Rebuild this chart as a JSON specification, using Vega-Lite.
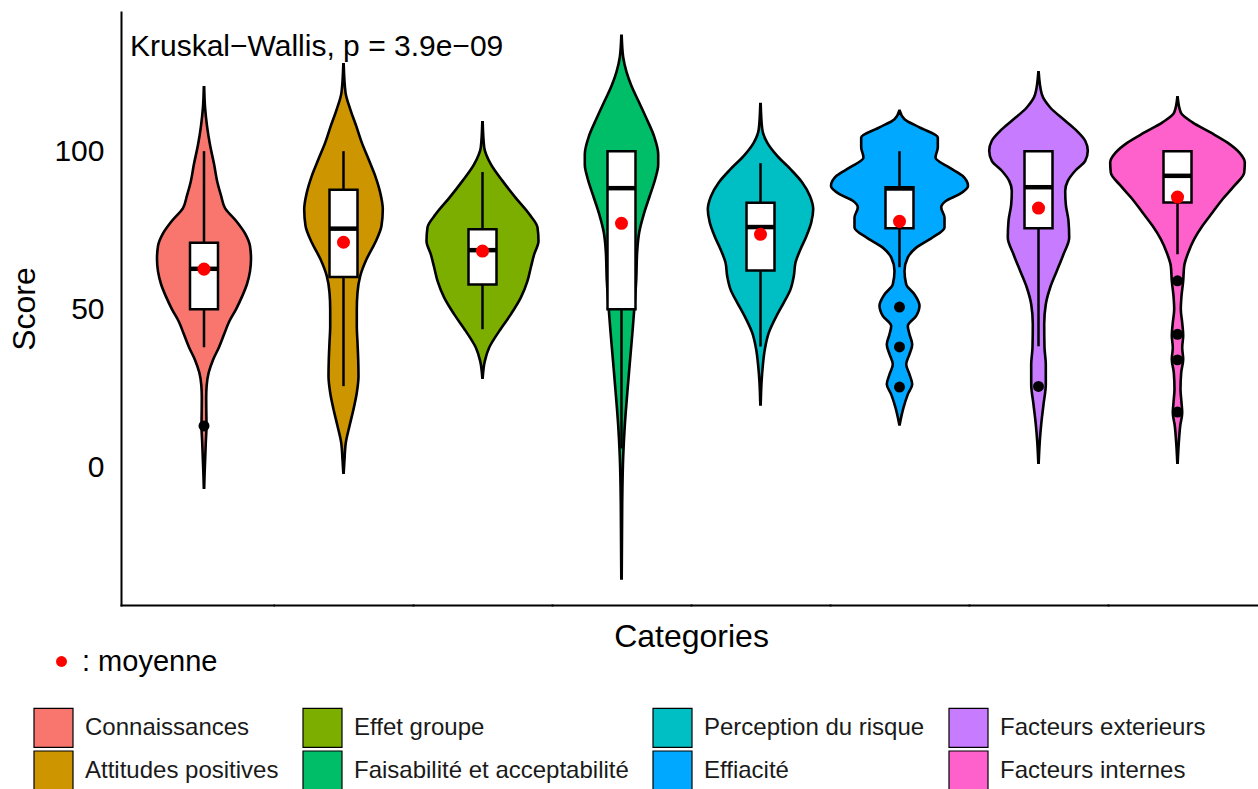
{
"$schema":"https://vega.github.io/schema/vega-lite/v6.json",
"padding":{"left":8,"top":12,"right":0,"bottom":0},
"background":"white",
"data":{"values":[
{"kind":"t","cat":"Connaissances","label":"Kruskal−Wallis, p = 3.9e−09"},
{"kind":"v","cat":"Connaissances","score":120.2,"w":0.4},{"kind":"v","cat":"Connaissances","score":114,"w":2},{"kind":"v","cat":"Connaissances","score":108,"w":6},{"kind":"v","cat":"Connaissances","score":102,"w":12},{"kind":"v","cat":"Connaissances","score":96,"w":20},{"kind":"v","cat":"Connaissances","score":90,"w":27},{"kind":"v","cat":"Connaissances","score":86,"w":34},{"kind":"v","cat":"Connaissances","score":82,"w":42},{"kind":"v","cat":"Connaissances","score":78,"w":64},{"kind":"v","cat":"Connaissances","score":74,"w":82},{"kind":"v","cat":"Connaissances","score":70,"w":92},{"kind":"v","cat":"Connaissances","score":66,"w":94},{"kind":"v","cat":"Connaissances","score":62,"w":92},{"kind":"v","cat":"Connaissances","score":58,"w":86},{"kind":"v","cat":"Connaissances","score":54,"w":76},{"kind":"v","cat":"Connaissances","score":50,"w":64},{"kind":"v","cat":"Connaissances","score":46,"w":50},{"kind":"v","cat":"Connaissances","score":42,"w":40},{"kind":"v","cat":"Connaissances","score":38,"w":30},{"kind":"v","cat":"Connaissances","score":34,"w":18},{"kind":"v","cat":"Connaissances","score":30,"w":9.4},{"kind":"v","cat":"Connaissances","score":26,"w":5.4},{"kind":"v","cat":"Connaissances","score":22,"w":4.4},{"kind":"v","cat":"Connaissances","score":18,"w":4.6},{"kind":"v","cat":"Connaissances","score":13,"w":5},{"kind":"v","cat":"Connaissances","score":8,"w":3.6},{"kind":"v","cat":"Connaissances","score":3,"w":2.4},{"kind":"v","cat":"Connaissances","score":-2,"w":1.2},{"kind":"v","cat":"Connaissances","score":-6.4,"w":0.4},
{"kind":"v","cat":"Attitudes positives","score":127.5,"w":0.4},{"kind":"v","cat":"Attitudes positives","score":118.6,"w":4},{"kind":"v","cat":"Attitudes positives","score":113.3,"w":13.4},{"kind":"v","cat":"Attitudes positives","score":108,"w":25.4},{"kind":"v","cat":"Attitudes positives","score":102.7,"w":36.6},{"kind":"v","cat":"Attitudes positives","score":97.5,"w":50},{"kind":"v","cat":"Attitudes positives","score":92.2,"w":63.4},{"kind":"v","cat":"Attitudes positives","score":86.9,"w":73.4},{"kind":"v","cat":"Attitudes positives","score":81.6,"w":78.6},{"kind":"v","cat":"Attitudes positives","score":76.4,"w":76},{"kind":"v","cat":"Attitudes positives","score":71.1,"w":63.4},{"kind":"v","cat":"Attitudes positives","score":65.8,"w":46},{"kind":"v","cat":"Attitudes positives","score":60.5,"w":33.4},{"kind":"v","cat":"Attitudes positives","score":55.3,"w":28},{"kind":"v","cat":"Attitudes positives","score":50,"w":26.6},{"kind":"v","cat":"Attitudes positives","score":44.7,"w":26.6},{"kind":"v","cat":"Attitudes positives","score":39.5,"w":28},{"kind":"v","cat":"Attitudes positives","score":34.2,"w":29.4},{"kind":"v","cat":"Attitudes positives","score":28.9,"w":30},{"kind":"v","cat":"Attitudes positives","score":23.6,"w":26.6},{"kind":"v","cat":"Attitudes positives","score":18.4,"w":20},{"kind":"v","cat":"Attitudes positives","score":13.1,"w":12},{"kind":"v","cat":"Attitudes positives","score":7.8,"w":4.6},{"kind":"v","cat":"Attitudes positives","score":2.5,"w":2},{"kind":"v","cat":"Attitudes positives","score":-1.7,"w":0.4},
{"kind":"v","cat":"Effet groupe","score":109.1,"w":0.4},{"kind":"v","cat":"Effet groupe","score":101.2,"w":3.4},{"kind":"v","cat":"Effet groupe","score":95.9,"w":16.6},{"kind":"v","cat":"Effet groupe","score":90.6,"w":40},{"kind":"v","cat":"Effet groupe","score":85.3,"w":66},{"kind":"v","cat":"Effet groupe","score":80.1,"w":93.4},{"kind":"v","cat":"Effet groupe","score":75.9,"w":110},{"kind":"v","cat":"Effet groupe","score":71.6,"w":112},{"kind":"v","cat":"Effet groupe","score":67.4,"w":103.4},{"kind":"v","cat":"Effet groupe","score":63.2,"w":96.6},{"kind":"v","cat":"Effet groupe","score":59,"w":90},{"kind":"v","cat":"Effet groupe","score":53.7,"w":76.6},{"kind":"v","cat":"Effet groupe","score":48.4,"w":56.6},{"kind":"v","cat":"Effet groupe","score":43.1,"w":33.4},{"kind":"v","cat":"Effet groupe","score":37.9,"w":13.4},{"kind":"v","cat":"Effet groupe","score":33.6,"w":4.6},{"kind":"v","cat":"Effet groupe","score":28.4,"w":0.4},
{"kind":"v","cat":"Faisabilité et acceptabilité","score":136.5,"w":0.4},{"kind":"v","cat":"Faisabilité et acceptabilité","score":129.7,"w":3.4},{"kind":"v","cat":"Faisabilité et acceptabilité","score":125.1,"w":10},{"kind":"v","cat":"Faisabilité et acceptabilité","score":120.6,"w":20},{"kind":"v","cat":"Faisabilité et acceptabilité","score":116,"w":33.4},{"kind":"v","cat":"Faisabilité et acceptabilité","score":110.3,"w":50},{"kind":"v","cat":"Faisabilité et acceptabilité","score":104.6,"w":65.4},{"kind":"v","cat":"Faisabilité et acceptabilité","score":99,"w":73.4},{"kind":"v","cat":"Faisabilité et acceptabilité","score":95.8,"w":73.4},{"kind":"v","cat":"Faisabilité et acceptabilité","score":91.5,"w":68},{"kind":"v","cat":"Faisabilité et acceptabilité","score":85.9,"w":56.6},{"kind":"v","cat":"Faisabilité et acceptabilité","score":80.1,"w":44.6},{"kind":"v","cat":"Faisabilité et acceptabilité","score":74.3,"w":35.4},{"kind":"v","cat":"Faisabilité et acceptabilité","score":68.4,"w":31.4},{"kind":"v","cat":"Faisabilité et acceptabilité","score":59.1,"w":29.4},{"kind":"v","cat":"Faisabilité et acceptabilité","score":49.8,"w":25.4},{"kind":"v","cat":"Faisabilité et acceptabilité","score":42.9,"w":22},{"kind":"v","cat":"Faisabilité et acceptabilité","score":33,"w":16.6},{"kind":"v","cat":"Faisabilité et acceptabilité","score":23.2,"w":11.4},{"kind":"v","cat":"Faisabilité et acceptabilité","score":13.3,"w":6.6},{"kind":"v","cat":"Faisabilité et acceptabilité","score":3.4,"w":3.4},{"kind":"v","cat":"Faisabilité et acceptabilité","score":-11.4,"w":1.4},{"kind":"v","cat":"Faisabilité et acceptabilité","score":-35.1,"w":0.4},
{"kind":"v","cat":"Perception du risque","score":114.9,"w":0.4},{"kind":"v","cat":"Perception du risque","score":107,"w":3.4},{"kind":"v","cat":"Perception du risque","score":102.7,"w":13.4},{"kind":"v","cat":"Perception du risque","score":98.5,"w":33.4},{"kind":"v","cat":"Perception du risque","score":94.3,"w":60},{"kind":"v","cat":"Perception du risque","score":90.1,"w":83.4},{"kind":"v","cat":"Perception du risque","score":85.9,"w":98.6},{"kind":"v","cat":"Perception du risque","score":81.6,"w":105.4},{"kind":"v","cat":"Perception du risque","score":77.4,"w":101.4},{"kind":"v","cat":"Perception du risque","score":73.2,"w":92},{"kind":"v","cat":"Perception du risque","score":69,"w":80},{"kind":"v","cat":"Perception du risque","score":64.8,"w":70},{"kind":"v","cat":"Perception du risque","score":60.5,"w":66.6},{"kind":"v","cat":"Perception du risque","score":56.3,"w":60},{"kind":"v","cat":"Perception du risque","score":52.1,"w":46.6},{"kind":"v","cat":"Perception du risque","score":47.9,"w":32},{"kind":"v","cat":"Perception du risque","score":42.6,"w":16.6},{"kind":"v","cat":"Perception du risque","score":37.3,"w":8.6},{"kind":"v","cat":"Perception du risque","score":32.1,"w":4.6},{"kind":"v","cat":"Perception du risque","score":26.8,"w":2},{"kind":"v","cat":"Perception du risque","score":19.9,"w":0.4},
{"kind":"v","cat":"Effiacité","score":112.8,"w":0.4},{"kind":"v","cat":"Effiacité","score":110.1,"w":10},{"kind":"v","cat":"Effiacité","score":107.5,"w":40},{"kind":"v","cat":"Effiacité","score":104.3,"w":76.6},{"kind":"v","cat":"Effiacité","score":101.2,"w":76.6},{"kind":"v","cat":"Effiacité","score":98,"w":72},{"kind":"v","cat":"Effiacité","score":94.8,"w":100},{"kind":"v","cat":"Effiacité","score":92.2,"w":126},{"kind":"v","cat":"Effiacité","score":89,"w":137},{"kind":"v","cat":"Effiacité","score":86.4,"w":120},{"kind":"v","cat":"Effiacité","score":84.3,"w":93.4},{"kind":"v","cat":"Effiacité","score":82.2,"w":83.4},{"kind":"v","cat":"Effiacité","score":79,"w":90},{"kind":"v","cat":"Effiacité","score":75.9,"w":90},{"kind":"v","cat":"Effiacité","score":72.7,"w":66},{"kind":"v","cat":"Effiacité","score":69.5,"w":33.4},{"kind":"v","cat":"Effiacité","score":66.4,"w":16.6},{"kind":"v","cat":"Effiacité","score":62.1,"w":10},{"kind":"v","cat":"Effiacité","score":57.9,"w":13.4},{"kind":"v","cat":"Effiacité","score":54.7,"w":30},{"kind":"v","cat":"Effiacité","score":51.1,"w":40},{"kind":"v","cat":"Effiacité","score":47.9,"w":33.4},{"kind":"v","cat":"Effiacité","score":44.7,"w":16.6},{"kind":"v","cat":"Effiacité","score":42.1,"w":20},{"kind":"v","cat":"Effiacité","score":38.9,"w":25.4},{"kind":"v","cat":"Effiacité","score":35.8,"w":20},{"kind":"v","cat":"Effiacité","score":32.6,"w":13.4},{"kind":"v","cat":"Effiacité","score":29.4,"w":20},{"kind":"v","cat":"Effiacité","score":26.3,"w":25.4},{"kind":"v","cat":"Effiacité","score":23.1,"w":16.6},{"kind":"v","cat":"Effiacité","score":18.9,"w":8},{"kind":"v","cat":"Effiacité","score":13.6,"w":0.4},
{"kind":"v","cat":"Facteurs exterieurs","score":124.9,"w":0.4},{"kind":"v","cat":"Facteurs exterieurs","score":118,"w":6.6},{"kind":"v","cat":"Facteurs exterieurs","score":113.8,"w":23.4},{"kind":"v","cat":"Facteurs exterieurs","score":109.6,"w":53.4},{"kind":"v","cat":"Facteurs exterieurs","score":106.4,"w":76.6},{"kind":"v","cat":"Facteurs exterieurs","score":103.3,"w":93.4},{"kind":"v","cat":"Facteurs exterieurs","score":100.1,"w":98.6},{"kind":"v","cat":"Facteurs exterieurs","score":96.9,"w":93.4},{"kind":"v","cat":"Facteurs exterieurs","score":93.8,"w":73.4},{"kind":"v","cat":"Facteurs exterieurs","score":90.6,"w":58.6},{"kind":"v","cat":"Facteurs exterieurs","score":87.4,"w":53.4},{"kind":"v","cat":"Facteurs exterieurs","score":83.2,"w":54.6},{"kind":"v","cat":"Facteurs exterieurs","score":77.9,"w":60},{"kind":"v","cat":"Facteurs exterieurs","score":72.7,"w":61.4},{"kind":"v","cat":"Facteurs exterieurs","score":67.4,"w":50},{"kind":"v","cat":"Facteurs exterieurs","score":62.1,"w":36.6},{"kind":"v","cat":"Facteurs exterieurs","score":56.9,"w":23.4},{"kind":"v","cat":"Facteurs exterieurs","score":51.6,"w":14.6},{"kind":"v","cat":"Facteurs exterieurs","score":45.3,"w":11.4},{"kind":"v","cat":"Facteurs exterieurs","score":37.9,"w":12},{"kind":"v","cat":"Facteurs exterieurs","score":32.6,"w":14.6},{"kind":"v","cat":"Facteurs exterieurs","score":26.3,"w":14.6},{"kind":"v","cat":"Facteurs exterieurs","score":19.9,"w":10},{"kind":"v","cat":"Facteurs exterieurs","score":13.6,"w":5.4},{"kind":"v","cat":"Facteurs exterieurs","score":8.3,"w":2.6},{"kind":"v","cat":"Facteurs exterieurs","score":1.5,"w":0.4},
{"kind":"v","cat":"Facteurs internes","score":117,"w":0.4},{"kind":"v","cat":"Facteurs internes","score":112.2,"w":6.6},{"kind":"v","cat":"Facteurs internes","score":109.1,"w":30},{"kind":"v","cat":"Facteurs internes","score":105.9,"w":66},{"kind":"v","cat":"Facteurs internes","score":102.7,"w":100},{"kind":"v","cat":"Facteurs internes","score":99.6,"w":123.4},{"kind":"v","cat":"Facteurs internes","score":96.4,"w":134.6},{"kind":"v","cat":"Facteurs internes","score":93.2,"w":133.4},{"kind":"v","cat":"Facteurs internes","score":89,"w":113.4},{"kind":"v","cat":"Facteurs internes","score":84.8,"w":90},{"kind":"v","cat":"Facteurs internes","score":80.6,"w":70},{"kind":"v","cat":"Facteurs internes","score":76.4,"w":50},{"kind":"v","cat":"Facteurs internes","score":72.2,"w":33.4},{"kind":"v","cat":"Facteurs internes","score":67.9,"w":21.4},{"kind":"v","cat":"Facteurs internes","score":63.7,"w":13.4},{"kind":"v","cat":"Facteurs internes","score":59,"w":11.4},{"kind":"v","cat":"Facteurs internes","score":54.2,"w":8},{"kind":"v","cat":"Facteurs internes","score":50,"w":6.6},{"kind":"v","cat":"Facteurs internes","score":45.8,"w":9.4},{"kind":"v","cat":"Facteurs internes","score":41.6,"w":11.4},{"kind":"v","cat":"Facteurs internes","score":37.9,"w":9.4},{"kind":"v","cat":"Facteurs internes","score":34.2,"w":11.4},{"kind":"v","cat":"Facteurs internes","score":30,"w":7.4},{"kind":"v","cat":"Facteurs internes","score":24.7,"w":6},{"kind":"v","cat":"Facteurs internes","score":20.5,"w":8},{"kind":"v","cat":"Facteurs internes","score":17.3,"w":9.4},{"kind":"v","cat":"Facteurs internes","score":13.1,"w":5.4},{"kind":"v","cat":"Facteurs internes","score":7.8,"w":2.6},{"kind":"v","cat":"Facteurs internes","score":1.5,"w":0.4},
{"kind":"b","cat":"Connaissances","lo":38,"q1":50,"med":62.8,"q3":71,"hi":100},
{"kind":"b","cat":"Attitudes positives","lo":25.7,"q1":60.2,"med":75.5,"q3":87.8,"hi":100},
{"kind":"b","cat":"Effet groupe","lo":43.7,"q1":57.8,"med":68.7,"q3":75.3,"hi":93.4},
{"kind":"b","cat":"Faisabilité et acceptabilité","lo":6,"q1":50,"med":88.3,"q3":100,"hi":100},
{"kind":"b","cat":"Perception du risque","lo":38.2,"q1":62.3,"med":76,"q3":83.7,"hi":96.2},
{"kind":"b","cat":"Effiacité","lo":63.3,"q1":75.6,"med":88.2,"q3":88.6,"hi":100},
{"kind":"b","cat":"Facteurs exterieurs","lo":38.3,"q1":75.6,"med":88.6,"q3":100,"hi":100},
{"kind":"b","cat":"Facteurs internes","lo":67.4,"q1":83.8,"med":92.2,"q3":100,"hi":100},
{"kind":"m","cat":"Connaissances","score":62.7,"mlab":": moyenne"},
{"kind":"m","cat":"Attitudes positives","score":71.2,"mlab":": moyenne"},
{"kind":"m","cat":"Effet groupe","score":68.4,"mlab":": moyenne"},
{"kind":"m","cat":"Faisabilité et acceptabilité","score":77.2,"mlab":": moyenne"},
{"kind":"m","cat":"Perception du risque","score":73.7,"mlab":": moyenne"},
{"kind":"m","cat":"Effiacité","score":77.8,"mlab":": moyenne"},
{"kind":"m","cat":"Facteurs exterieurs","score":82,"mlab":": moyenne"},
{"kind":"m","cat":"Facteurs internes","score":85.5,"mlab":": moyenne"},
{"kind":"o","cat":"Connaissances","score":13.1},
{"kind":"o","cat":"Effiacité","score":50.7},{"kind":"o","cat":"Effiacité","score":38.1},{"kind":"o","cat":"Effiacité","score":25.4},
{"kind":"o","cat":"Facteurs exterieurs","score":25.6},
{"kind":"o","cat":"Facteurs internes","score":59},{"kind":"o","cat":"Facteurs internes","score":42.1},{"kind":"o","cat":"Facteurs internes","score":34},{"kind":"o","cat":"Facteurs internes","score":17.5}
]},
"hconcat":[
{"width":152.5,"height":593,"transform":[{"filter":"datum.cat === 'Connaissances'"}],"layer":[
{"transform":[{"filter":"datum.kind === 'v'"}],"mark":{"type":"area","orient":"horizontal","interpolate":"monotone","stroke":"black","strokeWidth":2.6,"opacity":1,"fillOpacity":1},"encoding":{"x":{"field":"w","type":"quantitative","stack":"center","scale":{"domain":[-36,116.5],"nice":false,"zero":false},"axis":{"title":null}},"y":{"field":"score","type":"quantitative","scale":{"domain":[-43.5,144],"nice":false,"zero":false},"axis":{"title":"Score","values":[0,50,100]}},"fill":{"field":"cat","type":"nominal","scale":{"domain":["Connaissances","Attitudes positives","Effet groupe","Faisabilité et acceptabilité","Perception du risque","Effiacité","Facteurs exterieurs","Facteurs internes"],"range":["#F8766D","#CD9600","#7CAE00","#00BE67","#00BFC4","#00A9FF","#C77CFF","#FF61CC"]},"legend":{"title":null,"orient":"none","legendX":-88,"legendY":695,"columns":4,"columnPadding":21,"rowPadding":-3,"symbolType":"square","symbolSize":1521,"symbolStrokeColor":"black","symbolStrokeWidth":1.2,"symbolOpacity":1,"labelFontSize":24,"labelColor":"#1a1a1a","labelOffset":11,"labelLimit":400,"gridAlign":"each","padding":0}}}},
{"transform":[{"filter":"datum.kind === 'b'"}],"mark":{"type":"rule","color":"black","strokeWidth":2.5},"encoding":{"x":{"datum":47},"y":{"field":"lo","type":"quantitative"},"y2":{"field":"hi"}}},
{"transform":[{"filter":"datum.kind === 'b'"}],"mark":{"type":"rect","fill":"white","stroke":"black","strokeWidth":2.5},"encoding":{"x":{"datum":33},"x2":{"datum":61},"y":{"field":"q1","type":"quantitative"},"y2":{"field":"q3"}}},
{"transform":[{"filter":"datum.kind === 'b'"}],"mark":{"type":"rule","color":"black","strokeWidth":4.5},"encoding":{"x":{"datum":33},"x2":{"datum":61},"y":{"field":"med","type":"quantitative"}}},
{"transform":[{"filter":"datum.kind === 'o'"}],"mark":{"type":"circle","color":"black","size":120,"opacity":1},"encoding":{"x":{"datum":47},"y":{"field":"score","type":"quantitative"}}},
{"transform":[{"filter":"datum.kind === 'm'"}],"mark":{"type":"point","filled":true,"color":"red","size":170,"opacity":1},"encoding":{"x":{"datum":47},"y":{"field":"score","type":"quantitative"},"shape":{"field":"mlab","type":"nominal","scale":{"domain":[": moyenne"],"range":["circle"]},"legend":{"title":null,"orient":"none","legendX":-74,"legendY":635,"symbolSize":120,"symbolFillColor":"red","symbolStrokeWidth":0,"symbolOpacity":1,"labelFontSize":29,"labelColor":"black","labelOffset":6,"padding":0}}}},
{"transform":[{"filter":"datum.kind === 't'"}],"mark":{"type":"text","align":"left","baseline":"alphabetic","fontSize":30,"color":"black"},"encoding":{"x":{"datum":-27},"y":{"datum":130.1},"text":{"field":"label"}}}
]},
{"width":139,"height":593,"transform":[{"filter":"datum.cat === 'Attitudes positives'"}],"layer":[
{"transform":[{"filter":"datum.kind === 'v'"}],"mark":{"type":"area","orient":"horizontal","interpolate":"monotone","stroke":"black","strokeWidth":2.6,"opacity":1,"fillOpacity":1},"encoding":{"x":{"field":"w","type":"quantitative","stack":"center","scale":{"domain":[-30.2,108.8],"nice":false,"zero":false},"axis":{"title":null}},"y":{"field":"score","type":"quantitative","scale":{"domain":[-43.5,144],"nice":false,"zero":false},"axis":null},"fill":{"field":"cat","type":"nominal"}}},
{"transform":[{"filter":"datum.kind === 'b'"}],"mark":{"type":"rule","color":"black","strokeWidth":2.5},"encoding":{"x":{"datum":39.3},"y":{"field":"lo","type":"quantitative","axis":null},"y2":{"field":"hi"}}},
{"transform":[{"filter":"datum.kind === 'b'"}],"mark":{"type":"rect","fill":"white","stroke":"black","strokeWidth":2.5},"encoding":{"x":{"datum":25.3},"x2":{"datum":53.3},"y":{"field":"q1","type":"quantitative","axis":null},"y2":{"field":"q3"}}},
{"transform":[{"filter":"datum.kind === 'b'"}],"mark":{"type":"rule","color":"black","strokeWidth":4.5},"encoding":{"x":{"datum":25.3},"x2":{"datum":53.3},"y":{"field":"med","type":"quantitative","axis":null}}},
{"transform":[{"filter":"datum.kind === 'm'"}],"mark":{"type":"point","filled":true,"color":"red","size":170,"opacity":1},"encoding":{"x":{"datum":39.3},"y":{"field":"score","type":"quantitative","axis":null},"shape":{"field":"mlab","type":"nominal"}}}
]},
{"width":139,"height":593,"transform":[{"filter":"datum.cat === 'Effet groupe'"}],"layer":[
{"transform":[{"filter":"datum.kind === 'v'"}],"mark":{"type":"area","orient":"horizontal","interpolate":"monotone","stroke":"black","strokeWidth":2.6,"opacity":1,"fillOpacity":1},"encoding":{"x":{"field":"w","type":"quantitative","stack":"center","scale":{"domain":[-13.5,125.5],"nice":false,"zero":false},"axis":{"title":null}},"y":{"field":"score","type":"quantitative","scale":{"domain":[-43.5,144],"nice":false,"zero":false},"axis":null},"fill":{"field":"cat","type":"nominal"}}},
{"transform":[{"filter":"datum.kind === 'b'"}],"mark":{"type":"rule","color":"black","strokeWidth":2.5},"encoding":{"x":{"datum":56},"y":{"field":"lo","type":"quantitative","axis":null},"y2":{"field":"hi"}}},
{"transform":[{"filter":"datum.kind === 'b'"}],"mark":{"type":"rect","fill":"white","stroke":"black","strokeWidth":2.5},"encoding":{"x":{"datum":42},"x2":{"datum":70},"y":{"field":"q1","type":"quantitative","axis":null},"y2":{"field":"q3"}}},
{"transform":[{"filter":"datum.kind === 'b'"}],"mark":{"type":"rule","color":"black","strokeWidth":4.5},"encoding":{"x":{"datum":42},"x2":{"datum":70},"y":{"field":"med","type":"quantitative","axis":null}}},
{"transform":[{"filter":"datum.kind === 'm'"}],"mark":{"type":"point","filled":true,"color":"red","size":170,"opacity":1},"encoding":{"x":{"datum":56},"y":{"field":"score","type":"quantitative","axis":null},"shape":{"field":"mlab","type":"nominal"}}}
]},
{"width":139,"height":593,"transform":[{"filter":"datum.cat === 'Faisabilité et acceptabilité'"}],"layer":[
{"transform":[{"filter":"datum.kind === 'v'"}],"mark":{"type":"area","orient":"horizontal","interpolate":"monotone","stroke":"black","strokeWidth":2.6,"opacity":1,"fillOpacity":1},"encoding":{"x":{"field":"w","type":"quantitative","stack":"center","scale":{"domain":[-32.8,106.2],"nice":false,"zero":false},"axis":{"title":"Categories","titleAnchor":"end","titleAlign":"center"}},"y":{"field":"score","type":"quantitative","scale":{"domain":[-43.5,144],"nice":false,"zero":false},"axis":null},"fill":{"field":"cat","type":"nominal"}}},
{"transform":[{"filter":"datum.kind === 'b'"}],"mark":{"type":"rule","color":"black","strokeWidth":2.5},"encoding":{"x":{"datum":36.7},"y":{"field":"lo","type":"quantitative","axis":null},"y2":{"field":"hi"}}},
{"transform":[{"filter":"datum.kind === 'b'"}],"mark":{"type":"rect","fill":"white","stroke":"black","strokeWidth":2.5},"encoding":{"x":{"datum":22.7},"x2":{"datum":50.7},"y":{"field":"q1","type":"quantitative","axis":null},"y2":{"field":"q3"}}},
{"transform":[{"filter":"datum.kind === 'b'"}],"mark":{"type":"rule","color":"black","strokeWidth":4.5},"encoding":{"x":{"datum":22.7},"x2":{"datum":50.7},"y":{"field":"med","type":"quantitative","axis":null}}},
{"transform":[{"filter":"datum.kind === 'm'"}],"mark":{"type":"point","filled":true,"color":"red","size":170,"opacity":1},"encoding":{"x":{"datum":36.7},"y":{"field":"score","type":"quantitative","axis":null},"shape":{"field":"mlab","type":"nominal"}}}
]},
{"width":139,"height":593,"transform":[{"filter":"datum.cat === 'Perception du risque'"}],"layer":[
{"transform":[{"filter":"datum.kind === 'v'"}],"mark":{"type":"area","orient":"horizontal","interpolate":"monotone","stroke":"black","strokeWidth":2.6,"opacity":1,"fillOpacity":1},"encoding":{"x":{"field":"w","type":"quantitative","stack":"center","scale":{"domain":[-16.8,122.2],"nice":false,"zero":false},"axis":{"title":null}},"y":{"field":"score","type":"quantitative","scale":{"domain":[-43.5,144],"nice":false,"zero":false},"axis":null},"fill":{"field":"cat","type":"nominal"}}},
{"transform":[{"filter":"datum.kind === 'b'"}],"mark":{"type":"rule","color":"black","strokeWidth":2.5},"encoding":{"x":{"datum":52.7},"y":{"field":"lo","type":"quantitative","axis":null},"y2":{"field":"hi"}}},
{"transform":[{"filter":"datum.kind === 'b'"}],"mark":{"type":"rect","fill":"white","stroke":"black","strokeWidth":2.5},"encoding":{"x":{"datum":38.7},"x2":{"datum":66.7},"y":{"field":"q1","type":"quantitative","axis":null},"y2":{"field":"q3"}}},
{"transform":[{"filter":"datum.kind === 'b'"}],"mark":{"type":"rule","color":"black","strokeWidth":4.5},"encoding":{"x":{"datum":38.7},"x2":{"datum":66.7},"y":{"field":"med","type":"quantitative","axis":null}}},
{"transform":[{"filter":"datum.kind === 'm'"}],"mark":{"type":"point","filled":true,"color":"red","size":170,"opacity":1},"encoding":{"x":{"datum":52.7},"y":{"field":"score","type":"quantitative","axis":null},"shape":{"field":"mlab","type":"nominal"}}}
]},
{"width":139,"height":593,"transform":[{"filter":"datum.cat === 'Effiacité'"}],"layer":[
{"transform":[{"filter":"datum.kind === 'v'"}],"mark":{"type":"area","orient":"horizontal","interpolate":"monotone","stroke":"black","strokeWidth":2.6,"opacity":1,"fillOpacity":1},"encoding":{"x":{"field":"w","type":"quantitative","stack":"center","scale":{"domain":[-1,138],"nice":false,"zero":false},"axis":{"title":null}},"y":{"field":"score","type":"quantitative","scale":{"domain":[-43.5,144],"nice":false,"zero":false},"axis":null},"fill":{"field":"cat","type":"nominal"}}},
{"transform":[{"filter":"datum.kind === 'b'"}],"mark":{"type":"rule","color":"black","strokeWidth":2.5},"encoding":{"x":{"datum":68.5},"y":{"field":"lo","type":"quantitative","axis":null},"y2":{"field":"hi"}}},
{"transform":[{"filter":"datum.kind === 'b'"}],"mark":{"type":"rect","fill":"white","stroke":"black","strokeWidth":2.5},"encoding":{"x":{"datum":54.5},"x2":{"datum":82.5},"y":{"field":"q1","type":"quantitative","axis":null},"y2":{"field":"q3"}}},
{"transform":[{"filter":"datum.kind === 'b'"}],"mark":{"type":"rule","color":"black","strokeWidth":4.5},"encoding":{"x":{"datum":54.5},"x2":{"datum":82.5},"y":{"field":"med","type":"quantitative","axis":null}}},
{"transform":[{"filter":"datum.kind === 'o'"}],"mark":{"type":"circle","color":"black","size":120,"opacity":1},"encoding":{"x":{"datum":68.5},"y":{"field":"score","type":"quantitative","axis":null}}},
{"transform":[{"filter":"datum.kind === 'm'"}],"mark":{"type":"point","filled":true,"color":"red","size":170,"opacity":1},"encoding":{"x":{"datum":68.5},"y":{"field":"score","type":"quantitative","axis":null},"shape":{"field":"mlab","type":"nominal"}}}
]},
{"width":139,"height":593,"transform":[{"filter":"datum.cat === 'Facteurs exterieurs'"}],"layer":[
{"transform":[{"filter":"datum.kind === 'v'"}],"mark":{"type":"area","orient":"horizontal","interpolate":"monotone","stroke":"black","strokeWidth":2.6,"opacity":1,"fillOpacity":1},"encoding":{"x":{"field":"w","type":"quantitative","stack":"center","scale":{"domain":[-20.2,118.8],"nice":false,"zero":false},"axis":{"title":null}},"y":{"field":"score","type":"quantitative","scale":{"domain":[-43.5,144],"nice":false,"zero":false},"axis":null},"fill":{"field":"cat","type":"nominal"}}},
{"transform":[{"filter":"datum.kind === 'b'"}],"mark":{"type":"rule","color":"black","strokeWidth":2.5},"encoding":{"x":{"datum":49.3},"y":{"field":"lo","type":"quantitative","axis":null},"y2":{"field":"hi"}}},
{"transform":[{"filter":"datum.kind === 'b'"}],"mark":{"type":"rect","fill":"white","stroke":"black","strokeWidth":2.5},"encoding":{"x":{"datum":35.3},"x2":{"datum":63.3},"y":{"field":"q1","type":"quantitative","axis":null},"y2":{"field":"q3"}}},
{"transform":[{"filter":"datum.kind === 'b'"}],"mark":{"type":"rule","color":"black","strokeWidth":4.5},"encoding":{"x":{"datum":35.3},"x2":{"datum":63.3},"y":{"field":"med","type":"quantitative","axis":null}}},
{"transform":[{"filter":"datum.kind === 'o'"}],"mark":{"type":"circle","color":"black","size":120,"opacity":1},"encoding":{"x":{"datum":49.3},"y":{"field":"score","type":"quantitative","axis":null}}},
{"transform":[{"filter":"datum.kind === 'm'"}],"mark":{"type":"point","filled":true,"color":"red","size":170,"opacity":1},"encoding":{"x":{"datum":49.3},"y":{"field":"score","type":"quantitative","axis":null},"shape":{"field":"mlab","type":"nominal"}}}
]},
{"width":150.5,"height":593,"transform":[{"filter":"datum.cat === 'Facteurs internes'"}],"layer":[
{"transform":[{"filter":"datum.kind === 'v'"}],"mark":{"type":"area","orient":"horizontal","interpolate":"monotone","stroke":"black","strokeWidth":2.6,"opacity":1,"fillOpacity":1},"encoding":{"x":{"field":"w","type":"quantitative","stack":"center","scale":{"domain":[-2.2,148.3],"nice":false,"zero":false},"axis":{"title":null}},"y":{"field":"score","type":"quantitative","scale":{"domain":[-43.5,144],"nice":false,"zero":false},"axis":null},"fill":{"field":"cat","type":"nominal"}}},
{"transform":[{"filter":"datum.kind === 'b'"}],"mark":{"type":"rule","color":"black","strokeWidth":2.5},"encoding":{"x":{"datum":67.3},"y":{"field":"lo","type":"quantitative","axis":null},"y2":{"field":"hi"}}},
{"transform":[{"filter":"datum.kind === 'b'"}],"mark":{"type":"rect","fill":"white","stroke":"black","strokeWidth":2.5},"encoding":{"x":{"datum":53.3},"x2":{"datum":81.3},"y":{"field":"q1","type":"quantitative","axis":null},"y2":{"field":"q3"}}},
{"transform":[{"filter":"datum.kind === 'b'"}],"mark":{"type":"rule","color":"black","strokeWidth":4.5},"encoding":{"x":{"datum":53.3},"x2":{"datum":81.3},"y":{"field":"med","type":"quantitative","axis":null}}},
{"transform":[{"filter":"datum.kind === 'o'"}],"mark":{"type":"circle","color":"black","size":120,"opacity":1},"encoding":{"x":{"datum":67.3},"y":{"field":"score","type":"quantitative","axis":null}}},
{"transform":[{"filter":"datum.kind === 'm'"}],"mark":{"type":"point","filled":true,"color":"red","size":170,"opacity":1},"encoding":{"x":{"datum":67.3},"y":{"field":"score","type":"quantitative","axis":null},"shape":{"field":"mlab","type":"nominal"}}}
]}
],
"spacing":0,
"bounds":"flush",
"resolve":{"scale":{"x":"independent","y":"shared","fill":"shared","shape":"shared"}},
"config":{
"view":{"stroke":null},
"font":"Liberation Sans",
"axisX":{"labels":false,"ticks":false,"grid":false,"domainColor":"black","domainWidth":2,"domainCap":"square","titleFontSize":32,"titleFontWeight":"normal","titleColor":"black","titlePadding":16},
"axisY":{"ticks":false,"grid":false,"domainColor":"black","domainWidth":2,"domainCap":"square","labelFontSize":30,"labelColor":"black","labelPadding":17,"titleFontSize":32,"titleFontWeight":"normal","titleColor":"black","titlePadding":12},
"legend":{"padding":0}
}
}
